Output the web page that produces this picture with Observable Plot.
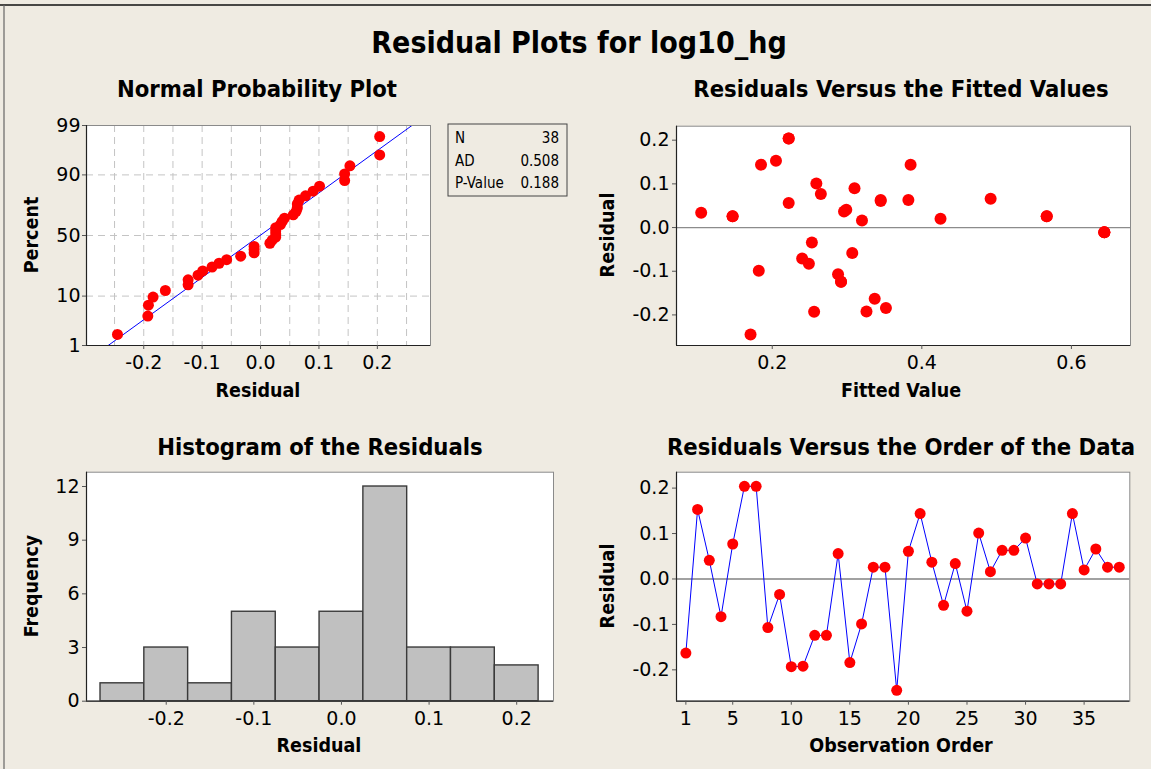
<!DOCTYPE html>
<html><head><meta charset="utf-8">
<script src="https://cdn.jsdelivr.net/npm/d3@7"></script>
<script src="https://cdn.jsdelivr.net/npm/@observablehq/plot@0.6"></script>
<style>
html,body{margin:0;padding:0;background:#EFEBE2;}
#page{position:relative;width:1151px;height:769px;overflow:hidden;background:#EFEBE2;}
.panel{position:absolute;}
#overlay{position:absolute;left:0;top:0;pointer-events:none;}
#overlay text{font-family:"DejaVu Sans Condensed","DejaVu Sans",sans-serif;fill:#000;}
.ttl{font-weight:bold;font-size:30px;text-anchor:middle;}
.ptl{font-weight:bold;font-size:23.6px;text-anchor:middle;}
.lab{font-weight:bold;font-size:19.5px;text-anchor:middle;}
.leg{font-size:15px;}
</style></head><body>
<div id="page">
  <div class="panel" id="p1" style="left:0;top:110px"></div>
  <div class="panel" id="p2" style="left:590px;top:110px"></div>
  <div class="panel" id="p3" style="left:0;top:460px"></div>
  <div class="panel" id="p4" style="left:590px;top:460px"></div>
  <svg id="overlay" width="1151" height="769"></svg>
</div>
<script>
// ---- data ----
const residuals = [-0.163, 0.153, 0.041, -0.083, 0.077, 0.204, 0.204, -0.107, -0.034, -0.193,
                   -0.192, -0.124, -0.124, 0.056, -0.184, -0.099, 0.026, 0.026, -0.245, 0.061,
                   0.144, 0.037, -0.058, 0.034, -0.071, 0.101, 0.016, 0.063, 0.063, 0.090,
                   -0.011, -0.011, -0.011, 0.144, 0.020, 0.066, 0.026, 0.026];
const fitted = [0.337, 0.205, 0.299, 0.249, 0.265, 0.222, 0.222, 0.288, 0.253, 0.256,
                0.326, 0.292, 0.292, 0.222, 0.352, 0.182, 0.147, 0.147, 0.171, 0.345,
                0.185, 0.296, 0.307, 0.105, 0.240, 0.259, 0.320, 0.382, 0.345, 0.310,
                0.644, 0.644, 0.644, 0.385, 0.425, 0.492, 0.567, 0.567];
const binMid = [-0.25, -0.20, -0.15, -0.10, -0.05, 0.00, 0.05, 0.10, 0.15, 0.20];
const binCount = [1, 3, 1, 5, 3, 5, 12, 3, 3, 2];
const binWidth = 0.05;
const pctTicks = [1, 10, 50, 90, 99];
const pctGrid = [10, 50, 90];
const residGrid = [-0.25, -0.2, -0.15, -0.1, -0.05, 0, 0.05, 0.1, 0.15, 0.2, 0.25];
const residTicks = [-0.2, -0.1, 0, 0.1, 0.2];
const fittedTicks = [0.2, 0.4, 0.6];
const freqTicks = [0, 3, 6, 9, 12];
const orderTicks = [1, 5, 10, 15, 20, 25, 30, 35];
const statsLabels = ["N", "AD", "P-Value"];
const statsValues = ["38", "0.508", "0.188"];

// ---- helpers ----
function qnorm(p){
  const a=[-3.969683028665376e+01,2.209460984245205e+02,-2.759285104469687e+02,1.383577518672690e+02,-3.066479806614716e+01,2.506628277459239e+00];
  const b=[-5.447609879822406e+01,1.615858368580409e+02,-1.556989798598866e+02,6.680131188771972e+01,-1.328068155288572e+01];
  const c=[-7.784894002430293e-03,-3.223964580411365e-01,-2.400758277161838e+00,-2.549732539343734e+00,4.374664141464968e+00,2.938163982698783e+00];
  const d=[7.784695709041462e-03,3.224671290700398e-01,2.445134137142996e+00,3.754408661907416e+00];
  const pl=0.02425, ph=1-pl; let q,r;
  if(p<pl){q=Math.sqrt(-2*Math.log(p));return (((((c[0]*q+c[1])*q+c[2])*q+c[3])*q+c[4])*q+c[5])/((((d[0]*q+d[1])*q+d[2])*q+d[3])*q+1);}
  if(p>ph){q=Math.sqrt(-2*Math.log(1-p));return -(((((c[0]*q+c[1])*q+c[2])*q+c[3])*q+c[4])*q+c[5])/((((d[0]*q+d[1])*q+d[2])*q+d[3])*q+1);}
  q=p-0.5;r=q*q;return (((((a[0]*r+a[1])*r+a[2])*r+a[3])*r+a[4])*r+a[5])*q/(((((b[0]*r+b[1])*r+b[2])*r+b[3])*r+b[4])*r+1);
}
const fmt1 = d => d.toFixed(1);
const style = {background:"transparent", fontFamily:"DejaVu Sans, sans-serif", fontSize:"19px", color:"#000", overflow:"visible"};
const axisOpts = {tickSize:4, stroke:"#555", label:null, fontSize:19};
const bg = Plot.frame({fill:"white", stroke:"none"});
function edges(xd, yd){
  return [
    Plot.frame({stroke:"#8a8a8a"}),
    Plot.ruleX([xd[0]], {stroke:"#222", strokeWidth:1.2}),
    Plot.ruleY([yd[0]], {stroke:"#222", strokeWidth:1.2})
  ];
}

// ---- 1. Normal probability plot ----
const n = residuals.length;
const sorted = residuals.slice().sort(d3.ascending);
const npp = sorted.map((r, i) => ({r, z: qnorm((i + 1 - 0.3) / (n + 0.4))}));
const mu = d3.mean(residuals), sd = d3.deviation(residuals);
const zLo = qnorm(0.01), zHi = qnorm(0.99);
const fitLine = [zLo, zHi].map(z => ({r: mu + sd * z, z}));
const x1d = [-0.298, 0.291], y1d = [zLo, zHi];
const pctLabel = d => { const p = pctTicks.find(p => Math.abs(qnorm(p/100) - d) < 1e-9); return p == null ? "" : String(p); };
document.getElementById("p1").append(Plot.plot({
  width:440, height:300, marginLeft:86, marginRight:10, marginTop:15, marginBottom:65, style,
  x:{domain:x1d}, y:{domain:y1d},
  marks:[
    bg,
    Plot.ruleX(residGrid, {stroke:"#c4c4c4", strokeDasharray:"7,5"}),
    Plot.ruleY(pctGrid.map(p => qnorm(p/100)), {stroke:"#c4c4c4", strokeDasharray:"7,5"}),
    Plot.line(fitLine, {x:"r", y:"z", stroke:"#0000ff", strokeWidth:1, clip:true}),
    Plot.dot(npp, {x:"r", y:"z", r:5.5, fill:"#ff0000", stroke:"none"}),
    ...edges(x1d, y1d),
    Plot.axisX({...axisOpts, ticks:residTicks, tickFormat:fmt1, tickPadding:6}),
    Plot.axisY({...axisOpts, ticks:pctTicks.map(p => qnorm(p/100)), tickFormat:pctLabel, tickPadding:2})
  ]
}));

// ---- 2. Residuals vs fitted ----
const fv = residuals.map((r, i) => ({f: fitted[i], r}));
const x2d = [0.072, 0.679], y2d = [-0.27, 0.232];
document.getElementById("p2").append(Plot.plot({
  width:561, height:300, marginLeft:86, marginRight:21, marginTop:15.7, marginBottom:65, style,
  x:{domain:x2d}, y:{domain:y2d},
  marks:[
    bg,
    Plot.ruleY([0], {stroke:"#8c8c8c", strokeWidth:1.2}),
    Plot.dot(fv, {x:"f", y:"r", r:6, fill:"#ff0000", stroke:"none"}),
    ...edges(x2d, y2d),
    Plot.axisX({...axisOpts, ticks:fittedTicks, tickFormat:fmt1, tickPadding:6}),
    Plot.axisY({...axisOpts, ticks:residTicks, tickFormat:fmt1, tickPadding:3})
  ]
}));

// ---- 3. Histogram ----
const bins = binMid.map((m, i) => ({x1: m - binWidth/2, x2: m + binWidth/2, y: binCount[i]}));
const x3d = [-0.291, 0.242], y3d = [0, 12.8];
document.getElementById("p3").append(Plot.plot({
  width:580, height:300, marginLeft:86, marginRight:27, marginTop:11.7, marginBottom:59.3, style,
  x:{domain:x3d}, y:{domain:y3d},
  marks:[
    bg,
    Plot.rectY(bins, {x1:"x1", x2:"x2", y:"y", fill:"#c0c0c0", stroke:"#3a3a3a", strokeWidth:1.4}),
    ...edges(x3d, y3d),
    Plot.axisX({...axisOpts, ticks:residTicks, tickFormat:fmt1, tickPadding:6}),
    Plot.axisY({...axisOpts, ticks:freqTicks, tickFormat:d => String(d), tickPadding:3})
  ]
}));

// ---- 4. Residuals vs order ----
const ord = residuals.map((r, i) => ({o: i + 1, r}));
const x4d = [0.2, 38.9], y4d = [-0.269, 0.235];
document.getElementById("p4").append(Plot.plot({
  width:561, height:300, marginLeft:86, marginRight:21.7, marginTop:11.7, marginBottom:59.3, style,
  x:{domain:x4d}, y:{domain:y4d},
  marks:[
    bg,
    Plot.ruleY([0], {stroke:"#444", strokeWidth:1.2}),
    Plot.line(ord, {x:"o", y:"r", stroke:"#0000ff", strokeWidth:1}),
    Plot.dot(ord, {x:"o", y:"r", r:5.5, fill:"#ff0000", stroke:"none"}),
    ...edges(x4d, y4d),
    Plot.axisX({...axisOpts, ticks:orderTicks, tickFormat:d => String(d), tickPadding:6}),
    Plot.axisY({...axisOpts, ticks:residTicks, tickFormat:fmt1, tickPadding:3})
  ]
}));

// ---- titles, axis labels, stats box ----
const svg = d3.select("#overlay");
svg.append("line").attr("x1",0).attr("x2",1151).attr("y1",5).attr("y2",5).attr("stroke","#111").attr("stroke-width",1.5);
svg.append("line").attr("x1",4).attr("x2",4).attr("y1",5).attr("y2",769).attr("stroke","#666").attr("stroke-width",1.2);
const T = (cls, x, y, s, rot) => {
  const t = svg.append("text").attr("class", cls).text(s);
  if (rot) t.attr("transform", `translate(${x},${y}) rotate(-90)`); else t.attr("x", x).attr("y", y);
};
T("ttl", 579, 53, "Residual Plots for log10_hg");
T("ptl", 257, 97, "Normal Probability Plot");
T("ptl", 901, 97, "Residuals Versus the Fitted Values");
T("ptl", 320, 455, "Histogram of the Residuals");
T("ptl", 901, 455, "Residuals Versus the Order of the Data");
T("lab", 258, 397, "Residual");
T("lab", 901, 397, "Fitted Value");
T("lab", 319, 752, "Residual");
T("lab", 901, 752, "Observation Order");
T("lab", 38, 235, "Percent", true);
T("lab", 614, 235, "Residual", true);
T("lab", 38, 586, "Frequency", true);
T("lab", 614, 586, "Residual", true);
svg.append("rect").attr("x",448).attr("y",124).attr("width",119).attr("height",72).attr("fill","none").attr("stroke","#444");
statsLabels.forEach((s, i) => {
  svg.append("text").attr("class","leg").attr("x",455).attr("y",143 + i*22.5).text(s);
  svg.append("text").attr("class","leg").attr("x",559).attr("y",143 + i*22.5).attr("text-anchor","end").text(statsValues[i]);
});
</script>
</body></html>
